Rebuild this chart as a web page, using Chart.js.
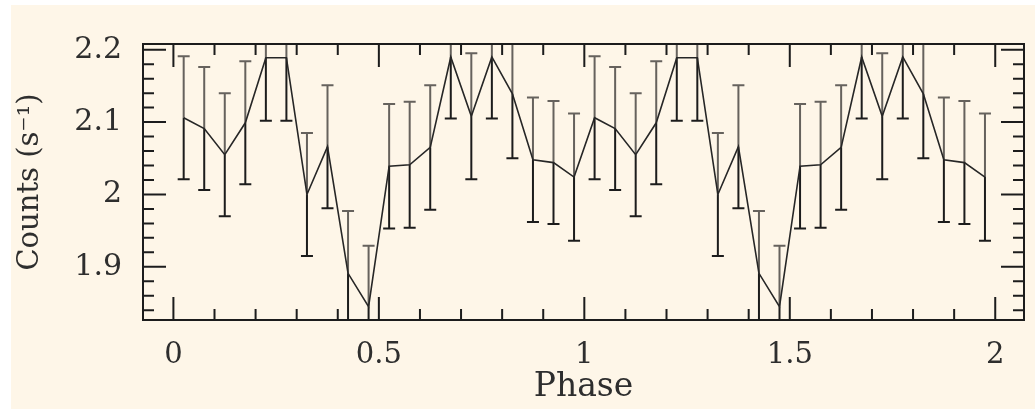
<!DOCTYPE html>
<html>
<head>
<meta charset="utf-8">
<script src="https://cdn.jsdelivr.net/npm/chart.js@4.4.1/dist/chart.umd.min.js"></script>
<style>
  html, body { margin: 0; padding: 0; background: #ffffff; }
  #wrap { position: absolute; left: 11px; top: 5px; width: 1024px; height: 404px; background: #fef6e8; }
</style>
</head>
<body>
<div id="wrap"><canvas id="phaseChart" width="1024" height="404"></canvas></div>
<script>
// phase bin centres (two cycles, 20 bins each)
const phases = [
  0.025, 0.075, 0.125, 0.175, 0.225, 0.275, 0.325, 0.375, 0.425, 0.475,
  0.525, 0.575, 0.625, 0.675, 0.725, 0.775, 0.825, 0.875, 0.925, 0.975,
  1.025, 1.075, 1.125, 1.175, 1.225, 1.275, 1.325, 1.375, 1.425, 1.475,
  1.525, 1.575, 1.625, 1.675, 1.725, 1.775, 1.825, 1.875, 1.925, 1.975
];
// count rate (s^-1)
const counts = [
  2.106, 2.091, 2.055, 2.099, 2.189, 2.189, 2.000, 2.066, 1.891, 1.845,
  2.039, 2.041, 2.065, 2.190, 2.108, 2.190, 2.139, 2.048, 2.044, 2.024,
  2.106, 2.091, 2.055, 2.099, 2.189, 2.189, 2.000, 2.066, 1.891, 1.845,
  2.039, 2.041, 2.065, 2.190, 2.108, 2.190, 2.139, 2.048, 2.044, 2.024
];
// 1-sigma errors
const errs = [
  0.085, 0.085, 0.085, 0.085, 0.087, 0.087, 0.085, 0.085, 0.086, 0.084,
  0.086, 0.087, 0.086, 0.085, 0.087, 0.085, 0.089, 0.086, 0.085, 0.088,
  0.085, 0.085, 0.085, 0.085, 0.087, 0.087, 0.085, 0.085, 0.086, 0.084,
  0.086, 0.087, 0.086, 0.085, 0.087, 0.085, 0.089, 0.086, 0.085, 0.088
];
const xTickVals = [0, 0.5, 1, 1.5, 2];
const yTickVals = [1.9, 2, 2.1, 2.2];
const xRange = [-0.074, 2.07];
const yRange = [1.8265, 2.2079];

const FONT = "'DejaVu Serif', 'Liberation Serif', serif";
const INK = '#1c1c1c';
const TEXT = '#2e2e2e';

// error bars drawn under the light curve
const errorBarPlugin = {
    id: 'errorBars',
    beforeDatasetsDraw(chart) {
        const { ctx, chartArea: a, scales: { x, y } } = chart;
        ctx.save();
        ctx.beginPath();
        ctx.rect(a.left, a.top, a.right - a.left, a.bottom - a.top);
        ctx.clip();
        ctx.lineWidth = 2;
        phases.forEach((p, i) => {
            const px = x.getPixelForValue(p);
            const pMid = y.getPixelForValue(counts[i]);
            const pTop = y.getPixelForValue(counts[i] + errs[i]);
            const pBot = y.getPixelForValue(counts[i] - errs[i]);
            ctx.strokeStyle = '#66625d';
            ctx.beginPath();
            ctx.moveTo(px, pMid); ctx.lineTo(px, pTop);
            ctx.moveTo(px - 6, pTop); ctx.lineTo(px + 6, pTop);
            ctx.stroke();
            ctx.strokeStyle = INK;
            ctx.beginPath();
            ctx.moveTo(px, pMid); ctx.lineTo(px, pBot);
            ctx.moveTo(px - 6, pBot); ctx.lineTo(px + 6, pBot);
            ctx.stroke();
        });
        ctx.restore();
    }
};

// box with inward major/minor ticks on all four sides
const framePlugin = {
    id: 'frameTicks',
    afterDraw(chart) {
        const { ctx, chartArea: a, scales: { x, y } } = chart;
        ctx.save();
        ctx.strokeStyle = INK;
        ctx.lineWidth = 2;
        ctx.strokeRect(a.left, a.top, a.right - a.left, a.bottom - a.top);

        const tick = (px, len, vertical) => {
            ctx.beginPath();
            if (vertical) {
                ctx.moveTo(px, a.bottom); ctx.lineTo(px, a.bottom - len);
                ctx.moveTo(px, a.top); ctx.lineTo(px, a.top + len);
            } else {
                ctx.moveTo(a.left, px); ctx.lineTo(a.left + len, px);
                ctx.moveTo(a.right, px); ctx.lineTo(a.right - len, px);
            }
            ctx.stroke();
        };
        for (let k = 0; k <= 20; k++) {
            const v = k / 10;
            const major = k % 5 === 0;
            tick(x.getPixelForValue(v), major ? 23 : 11, true);
        }
        for (let k = 0; k <= 20; k++) {
            const v = 1.84 + k * 0.02;
            if (v > yRange[1]) break;
            const major = Math.abs(v * 10 - Math.round(v * 10)) < 1e-6;
            tick(y.getPixelForValue(v), major ? 23 : 11, false);
        }
        ctx.restore();
    }
};

new Chart(document.getElementById('phaseChart'), {
    type: 'line',
    data: {
        datasets: [{
            data: phases.map((p, i) => ({ x: p, y: counts[i] })),
            borderColor: '#262626',
            borderWidth: 1.6,
            pointRadius: 0,
            tension: 0,
            fill: false
        }]
    },
    options: {
        responsive: false,
        devicePixelRatio: 1,
        animation: false,
        layout: { padding: { top: 34, right: 11, left: 0, bottom: 0 } },
        plugins: { legend: { display: false }, tooltip: { enabled: false } },
        scales: {
            x: {
                type: 'linear',
                min: xRange[0],
                max: xRange[1],
                afterBuildTicks: s => { s.ticks = xTickVals.map(v => ({ value: v })); },
                afterFit: s => { s.height = 89; },
                grid: { display: false, drawTicks: false },
                border: { display: false },
                ticks: {
                    autoSkip: false, maxRotation: 0, padding: 18,
                    color: TEXT, font: { family: FONT, size: 29 },
                    callback: v => String(v)
                },
                title: {
                    display: true, text: 'Phase', color: TEXT,
                    font: { family: FONT, size: 33 }, padding: { top: 0, bottom: 2 }
                }
            },
            y: {
                type: 'linear',
                min: yRange[0],
                max: yRange[1],
                afterBuildTicks: s => { s.ticks = yTickVals.map(v => ({ value: v })); },
                afterFit: s => { s.width = 132; },
                grid: { display: false, drawTicks: false },
                border: { display: false },
                ticks: {
                    autoSkip: false, padding: 21,
                    color: TEXT, font: { family: FONT, size: 30 },
                    callback: v => String(v)
                },
                title: {
                    display: true, text: 'Counts (s⁻¹)', color: TEXT,
                    font: { family: FONT, size: 29 }, padding: { top: 2, bottom: 0 }
                }
            }
        }
    },
    plugins: [errorBarPlugin, framePlugin]
});
</script>
</body>
</html>
